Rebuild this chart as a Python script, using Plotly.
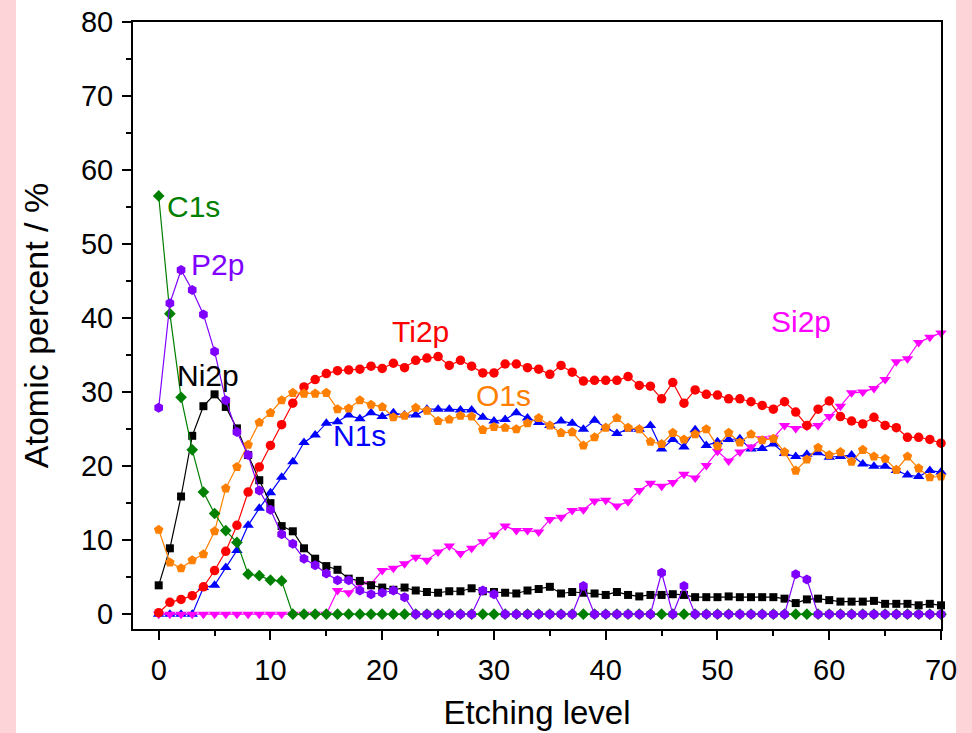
import plotly.graph_objects as go

# Etching levels 0..70
levels = list(range(71))

c1s = [56.5, 40.6, 29.3, 22.2, 16.5, 13.6, 11.3, 9.7, 5.4, 5.2,
       4.6, 4.5] + [0.0] * 59

p2p = [27.9, 42.0, 46.5, 43.8, 40.5, 35.5, 28.9, 24.6, 21.5, 16.7,
       14.1, 10.8, 9.5, 7.5, 6.6, 5.5, 4.6, 4.6, 3.2, 2.7,
       2.9, 3.2, 2.3, 0, 0, 0, 0, 0, 0, 3.2,
       2.7, 0, 0, 0, 0, 0, 0, 0, 3.8, 0,
       0, 0, 0, 0, 0, 5.6, 0, 3.8, 0, 0,
       0, 0, 0, 0, 0, 0, 0, 5.4, 4.7, 0,
       0, 0, 0, 0, 0, 0, 0, 0, 0, 0,
       0]

ni2p = [3.9, 8.9, 15.9, 24.1, 28.1, 29.7, 28.0, 25.1, 21.5, 18.1,
        15.0, 11.9, 11.2, 8.9, 7.5, 6.5, 6.0, 4.8, 4.5, 3.9,
        3.6, 3.3, 3.6, 3.2, 3.0, 2.9, 3.1, 3.1, 3.5, 3.1,
        3.0, 2.9, 2.8, 3.2, 3.4, 3.7, 2.8, 3.0, 2.9, 2.8,
        2.6, 3.0, 2.6, 2.4, 2.6, 2.6, 2.7, 2.6, 2.3, 2.3,
        2.3, 2.4, 2.3, 2.3, 2.3, 2.3, 2.1, 1.5, 2.0, 2.1,
        1.9, 1.7, 1.7, 1.7, 1.8, 1.4, 1.4, 1.4, 1.2, 1.4,
        1.2]

ti2p = [0.2, 1.6, 2.0, 2.5, 3.7, 5.9, 8.5, 12.0, 16.5, 19.9,
        22.8, 25.6, 28.5, 30.7, 31.7, 32.5, 32.9, 33.0, 33.1, 33.5,
        33.2, 33.9, 33.3, 34.3, 34.6, 34.8, 33.6, 34.3, 33.5, 32.6,
        32.6, 33.8, 33.8, 33.3, 33.1, 32.4, 33.6, 32.7, 31.5, 31.6,
        31.6, 31.6, 32.1, 30.9, 30.8, 29.1, 31.3, 28.5, 30.3, 29.7,
        29.6, 29.1, 29.1, 28.7, 28.2, 27.7, 28.7, 27.3, 25.5, 27.7,
        28.8, 26.7, 26.1, 25.7, 26.6, 25.5, 25.2, 23.9, 23.9, 23.6,
        23.1]

o1s = [11.4, 7.0, 6.2, 7.3, 8.1, 11.2, 17.0, 19.9, 22.9, 25.9,
       27.2, 28.9, 29.9, 29.8, 29.8, 29.9, 27.7, 27.8, 28.9, 28.3,
       28.0, 26.6, 26.8, 27.9, 27.5, 26.1, 26.3, 26.8, 26.7, 24.9,
       25.3, 25.2, 25.0, 25.8, 26.5, 25.5, 24.5, 24.6, 22.8, 23.9,
       25.2, 26.5, 25.2, 25.0, 23.3, 23.0, 24.5, 23.6, 24.3, 25.0,
       22.7, 24.5, 23.2, 24.3, 23.5, 23.7, 21.9, 19.4, 20.9, 22.5,
       21.5, 21.9, 20.6, 22.2, 21.3, 21.0, 19.5, 21.3, 19.7, 18.5,
       18.6]

n1s = [0, 0, 0, 0, 3.6, 3.9, 6.3, 8.6, 12.0, 14.3,
       16.4, 18.5, 20.6, 23.2, 24.2, 25.8, 26.0, 26.9, 26.4, 27.2,
       26.7, 27.2, 26.9, 26.9, 27.7, 27.7, 27.7, 27.6, 27.6, 26.6,
       26.1, 26.3, 27.2, 26.5, 25.9, 25.5, 26.1, 25.8, 25.0, 26.2,
       25.2, 24.4, 25.0, 25.0, 25.5, 22.3, 23.6, 22.6, 24.9, 22.8,
       23.3, 23.6, 23.7, 22.3, 22.4, 23.0, 21.7, 21.3, 21.6, 21.8,
       21.2, 21.3, 21.5, 20.3, 20.0, 20.0, 19.4, 18.8, 18.6, 19.4,
       19.2]

si2p = [0] * 16 + [
    3.2, 2.9, 4.1, 4.1,
    5.9, 6.2, 6.8, 7.7, 7.3, 8.4, 9.2, 8.2, 8.9, 9.8,
    10.7, 11.9, 11.3, 11.3, 11.1, 12.8, 13.1, 14.0, 14.1, 15.3,
    15.4, 14.6, 15.2, 16.7, 17.7, 17.3, 17.8, 18.9, 18.4, 20.1,
    22.0, 20.7, 21.9, 22.6, 23.7, 23.8, 25.5, 25.1, 25.4, 25.5,
    26.7, 28.1, 29.9, 30.0, 30.5, 31.7, 34.1, 34.5, 36.7, 37.4,
    38.0]

# Series, listed in drawing order (first is at the bottom)
series = [
    ("N1s", n1s, "#0000ff", "triangle-up", 10),
    ("Si2p", si2p, "#ff00ff", "triangle-down", 10),
    ("Ni2p", ni2p, "#000000", "square", 8),
    ("Ti2p", ti2p, "#ff0000", "circle", 9.5),
    ("O1s", o1s, "#ff8000", "pentagon", 10),
    ("C1s", c1s, "#008000", "diamond", 9),
    ("P2p", p2p, "#8000ff", "hexagon", 10),
]

# Label text positions: (name, x, y)
labels = [
    ("C1s", 0.6, 55.1),
    ("P2p", 2.7, 47.3),
    ("Ni2p", 1.5, 32.2),
    ("Ti2p", 20.7, 38.2),
    ("O1s", 28.2, 29.5),
    ("N1s", 15.4, 24.2),
    ("Si2p", 54.6, 39.5),
]
label_colors = {name: col for name, _, col, _, _ in series}

FONT = "Arial, Liberation Sans, sans-serif"

fig = go.Figure()
for name, vals, col, sym, size in series:
    fig.add_trace(go.Scatter(
        x=levels, y=vals, mode="lines+markers", name=name,
        line=dict(color=col, width=1.2),
        marker=dict(color=col, symbol=sym, size=size, line=dict(width=0)),
        showlegend=False, cliponaxis=False,
    ))

for name, lx, ly in labels:
    fig.add_annotation(
        x=lx, y=ly, text=name, showarrow=False,
        xanchor="left", yanchor="middle",
        font=dict(family=FONT, size=30, color=label_colors[name]),
    )

# pale pink side bands of the page
pink = "#fdd4d7"
fig.add_shape(type="rect", xref="paper", yref="paper",
              x0=-133 / 808, x1=-117 / 808, y0=-104 / 607, y1=1 + 22 / 607,
              fillcolor=pink, line=dict(width=0), layer="below")
fig.add_shape(type="rect", xref="paper", yref="paper",
              x0=1 + 15 / 808, x1=1 + 31 / 808, y0=-104 / 607, y1=1 + 22 / 607,
              fillcolor=pink, line=dict(width=0), layer="below")

axis_common = dict(
    showgrid=False, zeroline=False,
    showline=True, linecolor="black", linewidth=2, mirror=True,
    ticks="outside", ticklen=9, tickwidth=2, tickcolor="black",
    tickfont=dict(family=FONT, size=29, color="black"),
    minor=dict(ticks="outside", ticklen=5, tickwidth=2, tickcolor="black", dtick=5),
)

fig.update_xaxes(
    range=[-2.3, 70], tickmode="linear", tick0=0, dtick=10,
    ticklabelstandoff=5,
    title=dict(text="Etching level", font=dict(family=FONT, size=33, color="black"),
               standoff=16),
    **axis_common,
)
fig.update_yaxes(
    range=[-2, 80], tickmode="linear", tick0=0, dtick=10,
    ticklabelstandoff=3,
    title=dict(text="Atomic percent / %", font=dict(family=FONT, size=34, color="black"),
               standoff=22),
    **axis_common,
)

fig.update_layout(
    width=972, height=733,
    margin=dict(l=133, r=31, t=22, b=104, autoexpand=False),
    paper_bgcolor="white", plot_bgcolor="white",
    font=dict(family=FONT, color="black"),
)

fig.write_html("out.html", config={"displayModeBar": False})
